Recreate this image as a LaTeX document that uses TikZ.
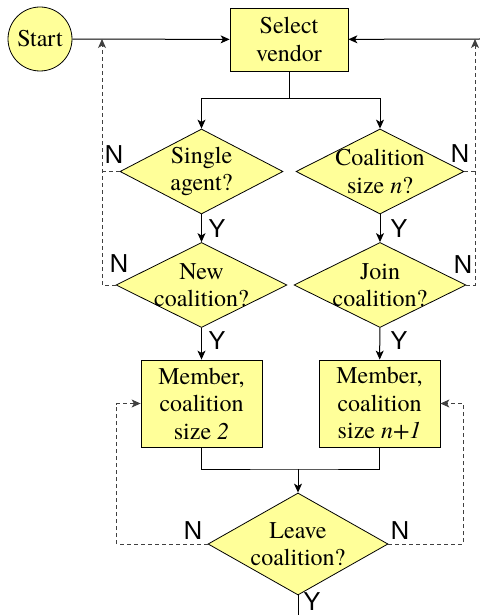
\documentclass[tikz,border=0pt]{standalone}
\usepackage{fontspec}
\newfontfamily\nodeface{texgyretermes}[Extension=.otf, UprightFont=*-regular, ItalicFont=*-italic, BoldFont=*-bold]
\newfontfamily\ynface{Liberation Sans}
\usetikzlibrary{shapes.geometric, arrows.meta}

\definecolor{boxyellow}{RGB}{255,255,153}

\begin{document}
\begin{tikzpicture}[
    x=0.5pt, y=-0.5pt,
    % Define styles
    terminal/.style={
        circle,
        draw=black,
        fill=boxyellow,
        minimum size=32pt,
        inner sep=0pt,
        font=\nodeface\fontsize{12}{13.75}\selectfont
    },
    process/.style={
        draw=black,
        fill=boxyellow,
        align=center,
        inner sep=0pt,
        font=\nodeface\fontsize{12}{13.75}\selectfont
    },
    decision/.style={
        diamond,
        draw=black,
        fill=boxyellow,
        inner sep=0pt
    },
    dtext/.style={
        align=center,
        inner sep=0pt,
        font=\nodeface\fontsize{12}{13.75}\selectfont
    },
    yn/.style={
        font=\ynface\fontsize{13}{15}\selectfont,
        inner sep=0pt
    },
    line/.style={
        line width=0.5pt,
        black
    },
    flow/.style={
        line,
        -{Stealth[length=4.5pt, width=4pt, inset=1.2pt]}
    },
    dashline/.style={
        line width=0.5pt,
        black!75,
        dash pattern=on 2pt off 1.5pt
    },
    dashflow/.style={
        dashline,
        -{Stealth[length=4.5pt, width=4pt, inset=1.2pt]}
    }
]
\useasboundingbox (0,0) rectangle (480,615);

% ============================================================
% Top: start and vendor selection
% ============================================================
\node[terminal] (start) at (40,39) {Start};
\node[process, minimum width=59pt, minimum height=31.5pt] (select) at (289,39.5) {Select\\vendor};

% ============================================================
% Decisions
% ============================================================
\node[decision, minimum width=81.5pt, minimum height=42.5pt] (single) at (201.5,171.5) {};
\node[dtext] at (single) {Single\\agent?};
\node[decision, minimum width=84pt, minimum height=42.5pt] (csize) at (380,171.5) {};
\node[dtext] at (csize) {Coalition\\size \textit{n}?};

\node[decision, minimum width=85.5pt, minimum height=42.5pt] (newco) at (201.5,285) {};
\node[dtext] at (newco) {New\\coalition?};
\node[decision, minimum width=86pt, minimum height=42.5pt] (joinco) at (380,285) {};
\node[dtext] at (joinco) {Join\\coalition?};

% ============================================================
% Membership states
% ============================================================
\node[process, minimum width=60.5pt, minimum height=43.5pt] (mem2) at (201.5,403.5) {Member,\\coalition\\size \textit{2}};
\node[process, minimum width=60.5pt, minimum height=43.5pt] (memn) at (379.5,403.5) {Member,\\coalition\\size \textit{n+1}};

\node[decision, minimum width=90pt, minimum height=51pt] (leave) at (298,544) {};
\node[dtext] at (leave) {Leave\\coalition?};

% ============================================================
% Junction points
% ============================================================
\coordinate (lj) at (102,39);
\coordinate (rj) at (475,39);
\coordinate (rin) at (480,39);
\coordinate (sj) at (289,99);
\coordinate (mj) at (298,469);
\coordinate (out) at (298,615);

% ============================================================
% Main flow
% ============================================================
\draw[flow] (start) -- (select);
\draw[flow] (rin) -- (select);
\draw[line] (select) -- (sj);
\draw[flow] (sj) -| (single.north);
\draw[flow] (sj) -| (csize.north);

\draw[flow] (single) -- (newco);
\draw[flow] (csize) -- (joinco);
\draw[flow] (newco) -- (mem2);
\draw[flow] (joinco) -- (memn);

\draw[line] (mem2.south) |- (mj) -| (memn.south);
\draw[flow] (mj) -- (leave);
\draw[line] (leave.south) -- (out);

% ============================================================
% "No" branches (dashed)
% ============================================================
\draw[dashline] (single.west) -- (single.west -| lj);
\draw[dashflow] (newco.west) -| (lj);
\draw[dashline] (csize.east) -- (csize.east -| rj);
\draw[dashflow] (joinco.east) -| (rj);

\draw[dashflow] (leave.west) -- ++(-91,0) |- (mem2.west);
\draw[dashflow] (leave.east) -- ++(75,0) |- (memn.east);

% ============================================================
% Y / N labels
% ============================================================
\node[yn] (n1) at (114,155) {N};
\node[yn] (n2) at (119,264) {N};
\node[yn] (n3) at (460,154) {N};
\node[yn] (n4) at (463,265) {N};
\node[yn] (n5) at (193,531) {N};
\node[yn] (n6) at (400,531) {N};

\node[yn] (y1) at (217,229) {Y};
\node[yn] (y2) at (399,229) {Y};
\node[yn] (y3) at (217,341) {Y};
\node[yn] (y4) at (399,341) {Y};
\node[yn] (y5) at (312,602) {Y};

\end{tikzpicture}
\end{document}
